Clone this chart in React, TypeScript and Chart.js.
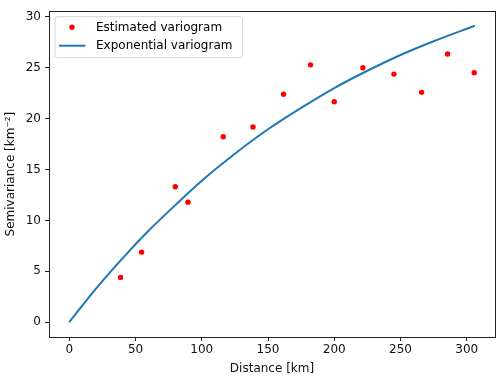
import React, { useEffect, useRef } from "react";
import { Chart, registerables } from "chart.js";

Chart.register(...registerables);

const estDistance = [38.7, 54.6, 80.0, 89.6, 116.2, 138.6, 161.7, 182.1, 200.0, 221.6, 245.0, 265.9, 285.5, 305.6];
const estSemivar = [4.4, 6.88, 13.3, 11.79, 18.21, 19.17, 22.39, 25.28, 21.65, 24.99, 24.37, 22.58, 26.34, 24.51];
const modelDistance = [0, 20, 40, 60, 80, 100, 125, 150, 175, 200, 225, 250, 275, 306];
const modelSemivar = [0, 3.27, 6.25, 9.0, 11.5, 13.9, 16.55, 18.95, 21.05, 23.0, 24.7, 26.25, 27.6, 29.12];
const xTicks = [0, 50, 100, 150, 200, 250, 300];
const yTicks = [0, 5, 10, 15, 20, 25, 30];
const legendLabels = ["Estimated variogram", "Exponential variogram"];
const xTitle = "Distance [km]";
const yTitle = "Semivariance [km\u207B\u00B2]";

const FONT = "'DejaVu Sans', sans-serif";
const RED = "#ff0000";
const BLUE = "#1f77b4";

const framePlugin = {
  id: "frameLegend",
  afterDraw(chart: any) {
    const { ctx, chartArea } = chart;
    ctx.save();
    ctx.strokeStyle = "#222";
    ctx.lineWidth = 1;
    ctx.strokeRect(
      Math.round(chartArea.left) + 0.5,
      Math.round(chartArea.top) + 0.5,
      Math.round(chartArea.right - chartArea.left),
      Math.round(chartArea.bottom - chartArea.top)
    );
    // legend
    const lx = chartArea.left + 6;
    const ly = chartArea.top + 5.5;
    const lw = 187.5;
    const lh = 41;
    ctx.beginPath();
    const r = 3;
    ctx.moveTo(lx + r, ly);
    ctx.lineTo(lx + lw - r, ly);
    ctx.quadraticCurveTo(lx + lw, ly, lx + lw, ly + r);
    ctx.lineTo(lx + lw, ly + lh - r);
    ctx.quadraticCurveTo(lx + lw, ly + lh, lx + lw - r, ly + lh);
    ctx.lineTo(lx + r, ly + lh);
    ctx.quadraticCurveTo(lx, ly + lh, lx, ly + lh - r);
    ctx.lineTo(lx, ly + r);
    ctx.quadraticCurveTo(lx, ly, lx + r, ly);
    ctx.closePath();
    ctx.fillStyle = "rgba(255,255,255,0.8)";
    ctx.fill();
    ctx.strokeStyle = "#d6d6d6";
    ctx.lineWidth = 1;
    ctx.stroke();

    ctx.fillStyle = RED;
    ctx.beginPath();
    ctx.arc(lx + 17, ly + 10.5, 2.7, 0, Math.PI * 2);
    ctx.fill();

    ctx.strokeStyle = BLUE;
    ctx.lineWidth = 2;
    ctx.beginPath();
    ctx.moveTo(lx + 4, ly + 29);
    ctx.lineTo(lx + 30.5, ly + 29);
    ctx.stroke();

    ctx.fillStyle = "#000";
    ctx.font = `12px ${FONT}`;
    ctx.textBaseline = "middle";
    ctx.textAlign = "left";
    ctx.fillText(legendLabels[0], lx + 41, ly + 11);
    ctx.fillText(legendLabels[1], lx + 41, ly + 29.5);
    ctx.restore();
  },
};

export default function App() {
  const ref = useRef<HTMLCanvasElement | null>(null);
  useEffect(() => {
    if (!ref.current) return;
    const chart = new Chart(ref.current, {
      type: "scatter",
      data: {
        datasets: [
          {
            label: legendLabels[0],
            data: estDistance.map((x, i) => ({ x, y: estSemivar[i] })),
            backgroundColor: RED,
            borderColor: RED,
            pointRadius: 2.7,
            pointBorderWidth: 0,
            showLine: false,
          },
          {
            label: legendLabels[1],
            data: modelDistance.map((x, i) => ({ x, y: modelSemivar[i] })),
            borderColor: BLUE,
            backgroundColor: BLUE,
            borderWidth: 2,
            pointRadius: 0,
            showLine: true,
            cubicInterpolationMode: "monotone",
          } as any,
        ],
      },
      options: {
        animation: false,
        responsive: false,
        maintainAspectRatio: false,
        layout: { padding: { top: 5, right: 5, left: 0, bottom: 0 } },
        plugins: {
          legend: { display: false },
          tooltip: { enabled: false },
        },
        scales: {
          x: {
            type: "linear",
            min: -15.3,
            max: 321.3,
            afterBuildTicks: (axis: any) => {
              axis.ticks = xTicks.map((v) => ({ value: v }));
            },
            afterFit: (axis: any) => {
              axis.height = 41;
            },
            border: { display: false },
            grid: {
              drawOnChartArea: false,
              drawTicks: true,
              tickLength: 4,
              color: "#222",
              lineWidth: 1,
            },
            ticks: {
              color: "#111",
              font: { family: FONT, size: 12 },
              padding: 2,
              maxRotation: 0,
              callback: (v: any) => String(v),
            },
            title: {
              display: true,
              text: xTitle,
              color: "#111",
              font: { family: FONT, size: 12 },
              padding: { top: 2, bottom: 2 },
            },
          },
          y: {
            type: "linear",
            min: -1.455,
            max: 30.55,
            afterBuildTicks: (axis: any) => {
              axis.ticks = yTicks.map((v) => ({ value: v }));
            },
            afterFit: (axis: any) => {
              axis.width = 49;
            },
            border: { display: false },
            grid: {
              drawOnChartArea: false,
              drawTicks: true,
              tickLength: 4,
              color: "#222",
              lineWidth: 1,
            },
            ticks: {
              color: "#111",
              font: { family: FONT, size: 12 },
              padding: 4,
              callback: (v: any) => String(v),
            },
            title: {
              display: true,
              text: yTitle,
              color: "#111",
              font: { family: FONT, size: 12 },
              padding: { top: 4, bottom: 2 },
            },
          },
        },
      },
      plugins: [framePlugin],
    });
    return () => chart.destroy();
  }, []);
  return (
    <div style={{ position: "fixed", left: 0, top: 0, width: 500, height: 378, background: "#fff" }}>
      <canvas ref={ref} width={500} height={378} style={{ width: 500, height: 378 }} />
    </div>
  );
}
